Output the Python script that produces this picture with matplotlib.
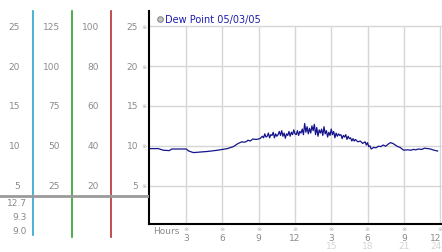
import matplotlib.pyplot as plt
from matplotlib.lines import Line2D
from matplotlib.transforms import blended_transform_factory

# dew point readings
hours = [0.0, 0.7, 1.1, 1.6, 1.8, 3.0, 3.2, 3.6, 4.0, 4.8, 5.6, 6.4, 6.9, 7.3, 7.6, 7.8,
         8.0, 8.1, 8.3, 8.5, 8.8, 9.1, 9.3, 9.4, 9.5, 9.6, 9.7, 9.8, 9.9, 10.0,
         10.1, 10.2, 10.3, 10.4, 10.5, 10.6, 10.7, 10.8, 10.9, 11.0, 11.1, 11.2,
         11.3, 11.4, 11.5, 11.6, 11.7, 11.8, 11.9, 12.0, 12.1, 12.2, 12.3, 12.4,
         12.5, 12.6, 12.7, 12.8, 12.9, 13.0, 13.1, 13.2, 13.3, 13.4, 13.5, 13.6,
         13.7, 13.8, 13.9, 14.0, 14.1, 14.2, 14.3, 14.4, 14.5, 14.6, 14.7, 14.8,
         14.9, 15.0, 15.1, 15.2, 15.3, 15.4, 15.5, 15.6, 15.7, 15.8, 15.9, 16.0,
         16.1, 16.2, 16.3, 16.4, 16.5, 16.6, 16.7, 16.8, 16.9, 17.0, 17.2, 17.4,
         17.6, 17.8, 17.9, 18.0, 18.1, 18.2, 18.3, 18.5, 18.7, 18.9, 19.1, 19.3,
         19.5, 19.7, 19.9, 20.1, 20.3, 20.5, 20.7, 20.9, 21.0, 21.3, 21.6, 21.8,
         22.0, 22.2, 22.5, 22.7, 23.0, 23.2, 23.5, 23.8]
dew_point = [9.65, 9.65, 9.45, 9.4, 9.6, 9.6, 9.35, 9.15, 9.2, 9.3, 9.45, 9.65, 9.9, 10.3, 10.5, 10.45,
             10.55, 10.7, 10.6, 10.85, 10.8, 10.9, 11.2, 11.0, 11.5, 11.1, 11.2, 11.6, 11.0, 11.4,
             11.3, 11.7, 11.0, 11.5, 11.2, 11.4, 11.8, 11.3, 11.9, 11.2, 11.6, 10.95,
             11.5, 11.3, 11.8, 11.2, 11.7, 11.4, 12.0, 11.5, 11.4, 11.9, 11.3, 11.8,
             11.6, 12.1, 11.4, 12.8, 11.7, 12.4, 11.5, 12.2, 11.6, 12.5, 11.9, 12.7,
             11.4, 12.3, 11.2, 12.0, 11.6, 12.1, 11.3, 12.4, 11.5, 11.9, 11.1, 11.7,
             11.3, 12.1, 11.4, 11.8, 11.0, 11.6, 11.2, 11.5, 11.3, 11.4, 10.9, 11.3,
             11.1, 11.4, 10.8, 11.2, 10.9, 11.0, 10.6, 10.9, 10.6, 10.8, 10.5, 10.6,
             10.3, 10.5, 10.1, 10.4, 9.9, 10.0, 9.6, 9.8, 9.75, 9.95, 9.9, 10.1,
             9.95, 10.2, 10.4, 10.3, 10.1, 9.9, 9.8, 9.55, 9.45, 9.5, 9.45, 9.55,
             9.5, 9.6, 9.55, 9.7, 9.65, 9.6, 9.45, 9.35]

y_ticks = [5, 10, 15, 20, 25]
col1_labels = ['5', '10', '15', '20', '25']
col2_labels = ['25', '50', '75', '100', '125']
col3_labels = ['20', '40', '60', '80', '100']
main_labels = ['5', '10', '15', '20', '25']
x_ticks = [3, 6, 9, 12, 15, 18, 21, 24]
x_top_labels = ['3', '6', '9', '12', '3', '6', '9', '12']
x_low_labels = ['', '', '', '', '15', '18', '21', '24']
summary = ['12.7', '9.3', '9.0']

W, H = 442, 253
gray = '#8a8a8a'
mark = '#b0b0b0'
fs = 6.5

fig = plt.figure(figsize=(W / 100, H / 100), dpi=100)
ax = fig.add_axes([149 / W, (H - 225) / H, (441 - 149) / W, (225 - 12) / H])
ax.set_xlim(-0.08, 24.08)
ax.set_ylim(0.2, 26.9)

# grid
for y in y_ticks:
    ax.axhline(y, color='#d6d6d6', lw=1, zorder=0, clip_on=False)
ax.vlines(x_ticks, 0.2, 25, color='#d6d6d6', lw=1, zorder=0)

ax.plot(hours, dew_point, color='#14148c', lw=0.9)

for s in ['top', 'right']:
    ax.spines[s].set_visible(False)
ax.spines['left'].set_linewidth(1.5)
ax.spines['bottom'].set_linewidth(1.5)
ax.set_xticks([])
ax.set_yticks([])

# left panel in pixel coordinates
lp = fig.add_axes([0, 0, 149 / W, 1])
lp.set_xlim(0, 149)
lp.set_ylim(H, 0)
lp.axis('off')
tr = blended_transform_factory(lp.transData, ax.transData)

for y, a, b, c, d in zip(y_ticks, col1_labels, col2_labels, col3_labels, main_labels):
    lp.text(20, y, a, transform=tr, ha='right', va='center', fontsize=fs, color=gray)
    lp.text(60, y, b, transform=tr, ha='right', va='center', fontsize=fs, color=gray)
    lp.text(99, y, c, transform=tr, ha='right', va='center', fontsize=fs, color=gray)
    lp.text(138, y, d, transform=tr, ha='right', va='center', fontsize=fs, color=gray)
    lp.text(144.5, y, '\u203b', transform=tr, ha='center', va='center', fontsize=4.5, color=mark)

lp.plot([33, 33], [12, 236], color='#2fa3cf', lw=1.2)
lp.plot([72, 72], [12, 238], color='#2e9e2e', lw=1.2)
lp.plot([111, 111], [12, 238], color='#b83030', lw=1.2)
lp.plot([0, 149], [197, 197], color='#9a9a9a', lw=2)

for yp, s in zip([204, 218, 232], summary):
    lp.text(27, yp, s, ha='right', va='center', fontsize=fs, color=gray)

# x labels below axis
trx = blended_transform_factory(ax.transData, fig.transFigure)
fig.text(153 / W, 1 - 232 / H, 'Hours', ha='left', va='center', fontsize=fs, color=gray)
for i, (x, t, b) in enumerate(zip(x_ticks, x_top_labels, x_low_labels)):
    last = i == len(x_ticks) - 1
    xl = x + 0.12 if last else x
    ha = 'right' if last else 'center'
    ax.text(x, 1 - 230 / H, '\u203b', transform=trx, ha='center', va='center', fontsize=4.5, color=mark)
    ax.text(xl, 1 - 239 / H, t, transform=trx, ha=ha, va='center', fontsize=fs, color=gray)
    ax.text(xl, 1 - 247 / H, b, transform=trx, ha=ha, va='center', fontsize=fs, color='#d4d4d4')

handle = Line2D([], [], ls='none', marker='o', markersize=4,
                markerfacecolor='#c4c4c4', markeredgecolor='#8a8a8a', markeredgewidth=0.8)
leg = fig.legend([handle], ['Dew Point 05/03/05'], loc='center left',
                 bbox_to_anchor=(157 / W, 1 - 20 / H), frameon=False, fontsize=7,
                 handlelength=0.6, handletextpad=0.25, borderpad=0, borderaxespad=0,
                 labelcolor='#1c1cb0')

fig.savefig('out.png', dpi=100)
